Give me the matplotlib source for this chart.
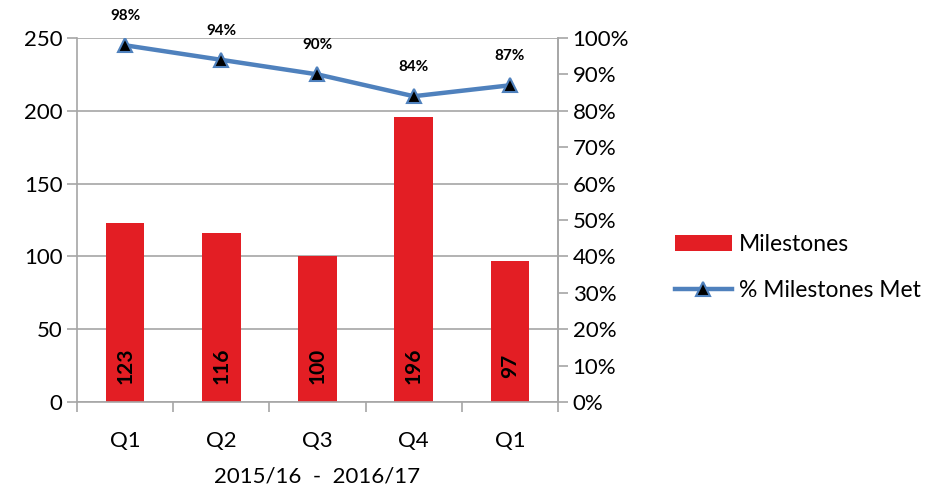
import matplotlib
matplotlib.use("Agg")
import matplotlib.pyplot as plt
import numpy as np

plt.rcParams['font.family'] = ['Lato', 'DejaVu Sans']

quarters = ["Q1", "Q2", "Q3", "Q4", "Q1"]
milestones = [123, 116, 100, 196, 97]
pct_met = [98, 94, 90, 84, 87]
period_label = "2015/16  -  2016/17"

bar_color = "#E31E24"
line_color = "#4F81BD"
grid_color = "#A6A6A6"

fig = plt.figure(figsize=(9.29, 4.96), dpi=100)
ax = fig.add_axes([0.0829, 0.1895, 0.5177, 0.7339])
x = np.arange(len(quarters))

ax.bar(x, milestones, width=0.4, color=bar_color, label="Milestones", zorder=2)
for xi, v in zip(x, milestones):
    ax.text(xi, 25, str(v), rotation=90, ha="center", va="center",
            fontsize=15, fontweight="bold", zorder=3)

ax.set_xlim(-0.5, len(quarters) - 0.5)
ax.set_ylim(0, 250)
ax.set_yticks(np.arange(0, 251, 50))
ax.yaxis.grid(True, color=grid_color, linewidth=1.2, zorder=0)
ax.set_axisbelow(True)
ax.set_xticks(x)
ax.set_xticklabels(quarters)
ax.set_xticks(np.arange(-0.5, len(quarters)), minor=True)
ax.tick_params(axis="x", which="major", length=0, labelsize=16, pad=21)
ax.tick_params(axis="x", which="minor", length=7, color=grid_color, width=1.2)
ax.tick_params(axis="y", length=7, color=grid_color, width=1.2, labelsize=16)
ax.spines["top"].set_visible(False)
for s in ["left", "right", "bottom"]:
    ax.spines[s].set_color(grid_color)
    ax.spines[s].set_linewidth(1.2)
ax.set_xlabel(period_label, fontsize=16, labelpad=11)

ax2 = ax.twinx()
ax2.plot(x, pct_met, color=line_color, linewidth=3.2, marker="^", markersize=10,
         markerfacecolor="black", markeredgecolor=line_color, markeredgewidth=1.5,
         label="% Milestones Met", zorder=4)
for xi, v in zip(x, pct_met):
    ax2.annotate(f"{v}%", (xi, v), xytext=(0, 21), textcoords="offset points",
                 ha="center", va="center", fontsize=11, fontweight="bold")
ax2.set_ylim(0, 100)
ax2.set_yticks(np.arange(0, 101, 10))
ax2.set_yticklabels([f"{t}%" for t in range(0, 101, 10)])
ax2.tick_params(axis="y", length=7, color=grid_color, width=1.2, labelsize=16)
for s in ["top", "left", "bottom"]:
    ax2.spines[s].set_visible(False)
ax2.spines["right"].set_color(grid_color)
ax2.spines["right"].set_linewidth(1.2)

h1, l1 = ax.get_legend_handles_labels()
h2, l2 = ax2.get_legend_handles_labels()
fig.legend(h1 + h2, l1 + l2, loc="center left", bbox_to_anchor=(0.704, 0.46),
           frameon=False, fontsize=16.5, handlelength=2.5, labelspacing=1.1,
           handletextpad=0.3)

fig.savefig("out.png", dpi=100)
